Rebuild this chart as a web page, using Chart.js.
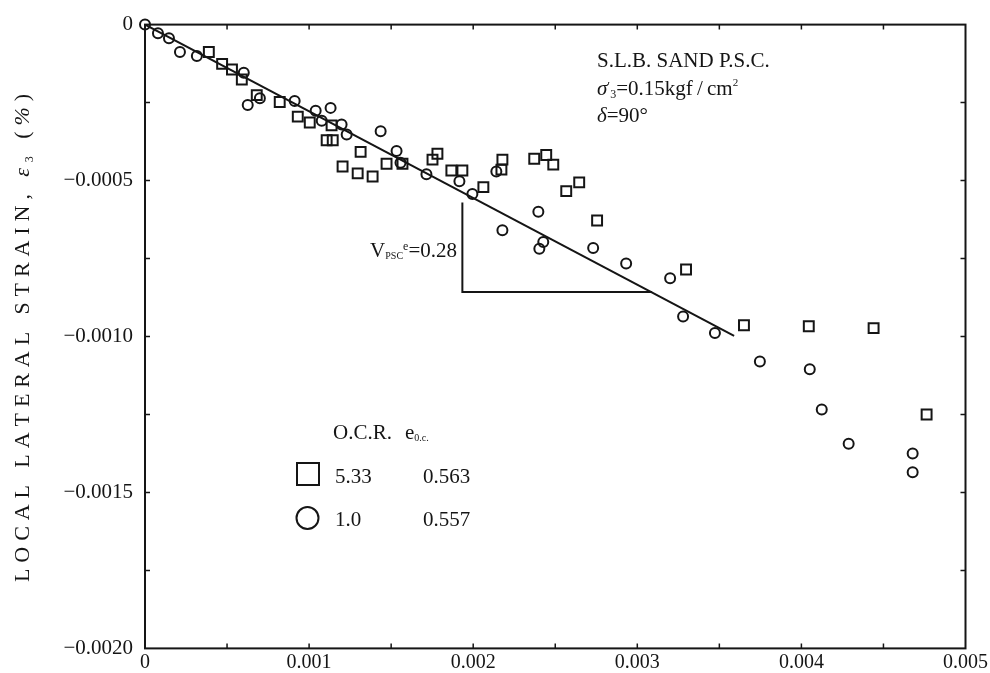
<!DOCTYPE html>
<html>
<head>
<meta charset="utf-8">
<script src="https://cdn.jsdelivr.net/npm/chart.js@4.4.0/dist/chart.umd.min.js"></script>
<style>
html, body { margin: 0; padding: 0; background: #fff; }
canvas { display: block; }
</style>
</head>
<body>
<canvas id="chart" width="990" height="673"></canvas>
<script>
const xTickValues = [0, 0.001, 0.002, 0.003, 0.004, 0.005];
const xTickLabels = ['0', '0.001', '0.002', '0.003', '0.004', '0.005'];
const yTickValues = [-0.002, -0.0015, -0.001, -0.0005, 0];
const yTickLabels = ['\u22120.0020', '\u22120.0015', '\u22120.0010', '\u22120.0005', '0'];

// O.C.R. 5.33 (squares)
const squareX = [0.000389, 0.000470, 0.000530, 0.000590, 0.000681, 0.000821, 0.000931, 0.001004, 0.001137,
    0.001107, 0.001144, 0.001314, 0.001472, 0.001569, 0.001204, 0.001296, 0.001387, 0.001752, 0.001782,
    0.001867, 0.001934, 0.002062, 0.002178, 0.002172, 0.002372, 0.002445, 0.002488, 0.002567, 0.002646,
    0.002755, 0.003297, 0.003650, 0.004045, 0.004440, 0.004763];
const squareY = [-0.000088, -0.000126, -0.000144, -0.000176, -0.000226, -0.000248, -0.000295, -0.000314, -0.000323,
    -0.000371, -0.000371, -0.000408, -0.000446, -0.000446, -0.000455, -0.000477, -0.000487, -0.000433, -0.000414,
    -0.000468, -0.000468, -0.000521, -0.000433, -0.000465, -0.000430, -0.000418, -0.000449, -0.000534, -0.000506,
    -0.000628, -0.000785, -0.000964, -0.000967, -0.000973, -0.001250];

// O.C.R. 1.0 (circles)
const circleX = [0, 0.000079, 0.000146, 0.000213, 0.000316, 0.000602, 0.000626, 0.000700, 0.000912, 0.001040,
    0.001131, 0.001077, 0.001198, 0.001229, 0.001436, 0.001533, 0.001557, 0.001715, 0.001916, 0.001995,
    0.002141, 0.002397, 0.002178, 0.002427, 0.002403, 0.002731, 0.002932, 0.003200, 0.003279, 0.003473,
    0.003747, 0.004051, 0.004124, 0.004288, 0.004678, 0.004678];
const circleY = [0, -0.000028, -0.000044, -0.000088, -0.000101, -0.000154, -0.000258, -0.000236, -0.000245, -0.000276,
    -0.000267, -0.000308, -0.000320, -0.000352, -0.000342, -0.000405, -0.000443, -0.000480, -0.000502, -0.000543,
    -0.000471, -0.000600, -0.000659, -0.000697, -0.000719, -0.000716, -0.000766, -0.000813, -0.000936, -0.000989,
    -0.001080, -0.001105, -0.001234, -0.001344, -0.001375, -0.001435];

// fitted line (V_PSC^e = 0.28) and its slope triangle
const fitX = [0, 0.00359];
const fitY = [0, -0.000998];
const triX = [0.001934, 0.001934, 0.00309];
const triY = [-0.000570, -0.000857, -0.000857];

const INK = '#151515';
const SERIF = "'Liberation Serif', 'DejaVu Serif', serif";

function pts(xs, ys) {
    return xs.map((x, i) => ({ x: x, y: ys[i] }));
}

function font(size, italic) {
    return (italic ? 'italic ' : '') + size + 'px ' + SERIF;
}

// draws a run of text pieces {t, s, dy, it}; returns total width
function drawRich(ctx, x, y, parts, measureOnly) {
    let cx = x;
    parts.forEach(p => {
        ctx.font = font(p.s || 21, p.it);
        if (!measureOnly) ctx.fillText(p.t, cx, y + (p.dy || 0));
        cx += ctx.measureText(p.t).width;
    });
    return cx - x;
}

const decorations = {
    id: 'decorations',
    afterDraw(chart) {
        const ctx = chart.ctx;
        const a = chart.chartArea;
        const xs = chart.scales.x;
        const ys = chart.scales.y;
        ctx.save();
        ctx.strokeStyle = INK;
        ctx.fillStyle = INK;

        // frame
        ctx.lineWidth = 2;
        ctx.strokeRect(a.left, a.top, a.right - a.left, a.bottom - a.top);

        // inward ticks
        ctx.lineWidth = 1.5;
        ctx.beginPath();
        for (let v = 0.0005; v < 0.005; v += 0.0005) {
            const px = xs.getPixelForValue(v);
            ctx.moveTo(px, a.top); ctx.lineTo(px, a.top + 5);
            ctx.moveTo(px, a.bottom); ctx.lineTo(px, a.bottom - 5);
        }
        for (let v = -0.00025; v > -0.002; v -= 0.00025) {
            const py = ys.getPixelForValue(v);
            ctx.moveTo(a.left, py); ctx.lineTo(a.left + 5, py);
            ctx.moveTo(a.right, py); ctx.lineTo(a.right - 5, py);
        }
        ctx.stroke();

        ctx.textBaseline = 'alphabetic';
        ctx.textAlign = 'left';

        // condition text
        drawRich(ctx, 597, 67, [{ t: 'S.L.B. SAND P.S.C.' }]);
        drawRich(ctx, 597, 95, [
            { t: '\u03c3', it: true }, { t: '\u2032', s: 13, dy: -5 }, { t: '3', s: 12, dy: 3 },
            { t: '=0.15kgf\u2009/\u2009cm' }, { t: '2', s: 11, dy: -9 }
        ]);
        drawRich(ctx, 597, 122, [{ t: '\u03b4', it: true }, { t: '=90\u00b0' }]);

        // slope annotation, right aligned
        const vParts = [{ t: 'V' }, { t: 'PSC', s: 10, dy: 2 }, { t: 'e', s: 12, dy: -7 }, { t: '=0.28' }];
        const vw = drawRich(ctx, 0, 0, vParts, true);
        drawRich(ctx, 457 - vw, 257, vParts);

        // legend
        drawRich(ctx, 333, 439, [{ t: 'O.C.R.' }]);
        drawRich(ctx, 405, 439, [{ t: 'e' }, { t: '0.c.', s: 10, dy: 2 }]);
        ctx.lineWidth = 2;
        ctx.strokeRect(297, 463, 22, 22);
        ctx.beginPath();
        ctx.arc(307.5, 518, 11, 0, Math.PI * 2);
        ctx.stroke();
        drawRich(ctx, 335, 483, [{ t: '5.33' }]);
        drawRich(ctx, 423, 483, [{ t: '0.563' }]);
        drawRich(ctx, 335, 526, [{ t: '1.0' }]);
        drawRich(ctx, 423, 526, [{ t: '0.557' }]);

        // y axis title, spread over the axis length
        const tParts = [];
        'LOCAL LATERAL STRAIN, '.split('').forEach(c => tParts.push({ t: c, s: 22 }));
        tParts.push({ t: '\u03b5', it: true, s: 22 }, { t: '3', s: 12, dy: 4 }, { t: ' ', s: 22 },
            { t: '(', s: 22 }, { t: '%', it: true, s: 22 }, { t: ')', s: 22 });
        const natural = drawRich(ctx, 0, 0, tParts, true);
        const target = 488;
        const gap = (target - natural) / (tParts.length - 1);
        ctx.translate(29, 338);
        ctx.rotate(-Math.PI / 2);
        let cx = -target / 2;
        tParts.forEach(p => {
            ctx.font = font(p.s || 21, p.it);
            ctx.fillText(p.t, cx, p.dy || 0);
            cx += ctx.measureText(p.t).width + gap;
        });
        ctx.restore();
    }
};

new Chart(document.getElementById('chart'), {
    type: 'scatter',
    data: {
        datasets: [
            {
                label: 'O.C.R. 5.33',
                data: pts(squareX, squareY),
                pointStyle: 'rect',
                pointRadius: 7,
                borderColor: INK,
                backgroundColor: 'rgba(0,0,0,0)',
                borderWidth: 2,
                clip: false
            },
            {
                label: 'O.C.R. 1.0',
                data: pts(circleX, circleY),
                pointStyle: 'circle',
                pointRadius: 5,
                borderColor: INK,
                backgroundColor: 'rgba(0,0,0,0)',
                borderWidth: 2,
                clip: false
            },
            {
                type: 'line',
                label: 'fit',
                data: pts(fitX, fitY),
                borderColor: INK,
                borderWidth: 2,
                pointRadius: 0,
                fill: false
            },
            {
                type: 'line',
                label: 'triangle',
                data: pts(triX, triY),
                borderColor: INK,
                borderWidth: 2,
                pointRadius: 0,
                fill: false
            }
        ]
    },
    options: {
        responsive: false,
        animation: false,
        events: [],
        layout: { padding: { left: 0, top: 15, right: 23, bottom: 0 } },
        plugins: {
            legend: { display: false },
            tooltip: { enabled: false }
        },
        scales: {
            x: {
                type: 'linear',
                min: 0,
                max: 0.005,
                afterBuildTicks: s => { s.ticks = xTickValues.map(v => ({ value: v })); },
                afterFit: s => { s.height = 21; },
                grid: { display: false, drawTicks: false },
                border: { display: false },
                ticks: {
                    color: INK,
                    padding: 2,
                    maxRotation: 0,
                    autoSkip: false,
                    font: { family: SERIF, size: 20 },
                    callback: (v, i) => xTickLabels[i]
                }
            },
            y: {
                type: 'linear',
                min: -0.002,
                max: 0,
                afterBuildTicks: s => { s.ticks = yTickValues.map(v => ({ value: v })); },
                afterFit: s => { s.width = 145; },
                grid: { display: false, drawTicks: false },
                border: { display: false },
                ticks: {
                    color: INK,
                    padding: 12,
                    autoSkip: false,
                    font: { family: SERIF, size: 21 },
                    callback: (v, i) => yTickLabels[i]
                }
            }
        }
    },
    plugins: [decorations]
});
</script>
</body>
</html>
